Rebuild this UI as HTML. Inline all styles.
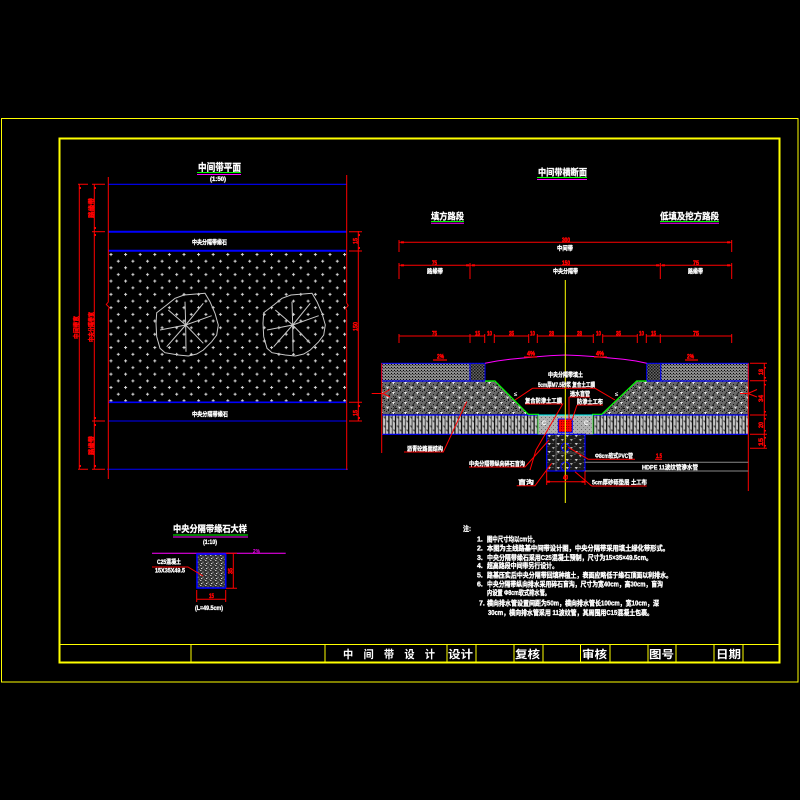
<!DOCTYPE html>
<html><head><meta charset="utf-8">
<style>
html,body{margin:0;padding:0;background:#000;}
svg{display:block;}
text{font-family:"Liberation Sans","Noto Sans CJK SC",sans-serif;font-weight:bold;}
</style></head>
<body>
<svg width="800" height="800" viewBox="0 0 800 800" xmlns="http://www.w3.org/2000/svg">
<defs>
 <pattern id="pdots" width="14.6" height="13.3" patternUnits="userSpaceOnUse" x="108" y="251">
   <path d="M3 2v3M1.5 3.5h3M10.3 8.7v3M8.8 10.2h3" stroke="#d8d8d8" stroke-width="1"/>
 </pattern>
 <pattern id="pcheck" width="3" height="3" patternUnits="userSpaceOnUse">
   <rect width="3" height="3" fill="#8c8c8c"/><rect x="1" y="1" width="1" height="1" fill="#000"/><rect x="2.2" y="2.2" width="0.8" height="0.8" fill="#222"/><rect x="0" y="2" width="0.8" height="0.8" fill="#444"/>
 </pattern>
 <pattern id="pcurb" width="3" height="3" patternUnits="userSpaceOnUse">
   <rect width="3" height="3" fill="#666"/><rect x="0" y="0" width="1.5" height="1.5" fill="#111"/><rect x="1.5" y="1.5" width="1.5" height="1.5" fill="#222"/>
 </pattern>
 <pattern id="pbase" width="12" height="10" patternUnits="userSpaceOnUse">
   <rect width="12" height="10" fill="#6a6a6a"/>
   <path d="M0 0h1v1h-1zM2 1h1v1h-1zM4 0h1v1h-1zM6 2h1v1h-1zM8 1h1v1h-1zM10 3h1v1h-1zM1 4h1v1h-1zM3 6h1v1h-1zM5 5h1v1h-1zM7 8h1v1h-1zM9 6h1v1h-1zM11 8h1v1h-1zM0 8h1v1h-1zM4 9h1v1h-1z" fill="#111"/>
   <path d="M7 2l-3 4M12 6l-3 4" stroke="#1a1a1a" stroke-width="0.8"/>
   <path d="M2 6.5h3l-1.5 2.5z M8 2h3l-1.5 2.5z" fill="#f0f0f0"/>
 </pattern>
 <pattern id="pstripe" width="6.6" height="9" patternUnits="userSpaceOnUse" x="381.7" y="415">
   <rect width="6.6" height="9" fill="#c4c4c4"/>
   <rect x="0" width="1.2" height="9" fill="#000"/>
   <rect x="3.6" width="0.7" height="9" fill="#111"/>
   <path d="M1.8 2h1.4v1.6M4.8 6h1.2v1.4" stroke="#222" stroke-width="0.7" fill="none"/>
 </pattern>
 <pattern id="pcenter" width="4" height="4" patternUnits="userSpaceOnUse">
   <rect width="4" height="4" fill="#b0b0b0"/><rect x="1" y="1" width="1" height="1" fill="#666"/><rect x="3" y="3" width="0.8" height="0.8" fill="#777"/>
 </pattern>
 <pattern id="ptrench" width="9" height="8" patternUnits="userSpaceOnUse" x="546.7" y="434">
   <rect width="9" height="8" fill="#1a1a1a"/>
   <path d="M1 1h3.2l-1.6 2.4z" fill="#d0d0d0"/>
   <path d="M5.2 5h3l-1.5 2.4z" fill="#a8a8a8"/>
   <path d="M0 4.5h2M5 1.5h2" stroke="#777" stroke-width="0.6"/>
 </pattern>
 <pattern id="pstone" width="5" height="5" patternUnits="userSpaceOnUse">
   <rect width="5" height="5" fill="#333"/>
   <rect x="0" y="0" width="1.5" height="1" fill="#bbb"/><rect x="2.5" y="1.5" width="1" height="1.5" fill="#999"/>
   <rect x="1" y="3" width="1.3" height="1" fill="#ddd"/><rect x="3.8" y="3.8" width="1" height="1" fill="#888"/>
 </pattern>
 <pattern id="pred" width="2.5" height="2.5" patternUnits="userSpaceOnUse">
   <rect width="2.5" height="2.5" fill="#ff0000"/><rect x="1" y="1" width="0.7" height="0.7" fill="#000"/>
 </pattern>
</defs>

<rect width="800" height="800" fill="#000"/>

<!-- frames -->
<rect x="1.5" y="118.5" width="796.5" height="563.5" fill="none" stroke="#ffff00" stroke-width="1"/>
<rect x="59.5" y="138.5" width="720" height="524" fill="none" stroke="#ffff00" stroke-width="2"/>
<line x1="59" y1="644.5" x2="780" y2="644.5" stroke="#ffff00" stroke-width="1"/>
<g stroke="#ffff00" stroke-width="1">
 <line x1="191" y1="644.5" x2="191" y2="662"/>
 <line x1="325" y1="644.5" x2="325" y2="662"/>
 <line x1="447" y1="644.5" x2="447" y2="662"/>
 <line x1="476" y1="644.5" x2="476" y2="662"/>
 <line x1="514" y1="644.5" x2="514" y2="662"/>
 <line x1="543" y1="644.5" x2="543" y2="662"/>
 <line x1="580.5" y1="644.5" x2="580.5" y2="662"/>
 <line x1="610" y1="644.5" x2="610" y2="662"/>
 <line x1="648" y1="644.5" x2="648" y2="662"/>
 <line x1="676" y1="644.5" x2="676" y2="662"/>
 <line x1="714" y1="644.5" x2="714" y2="662"/>
 <line x1="743" y1="644.5" x2="743" y2="662"/>
</g>
<g fill="#fff" font-size="11">
 <text x="343" y="658" textLength="92" lengthAdjust="spacingAndGlyphs" font-weight="normal">中　间　带　设　计</text>
 <text x="448" y="658" textLength="25" lengthAdjust="spacingAndGlyphs">设计</text>
 <text x="515" y="658" textLength="25" lengthAdjust="spacingAndGlyphs">复核</text>
 <text x="582" y="658" textLength="25" lengthAdjust="spacingAndGlyphs">审核</text>
 <text x="649" y="658" textLength="25" lengthAdjust="spacingAndGlyphs">图号</text>
 <text x="716" y="658" textLength="25" lengthAdjust="spacingAndGlyphs">日期</text>
</g>

<!-- ================= PLAN VIEW ================= -->
<g fill="#fff" stroke="#fff" stroke-width="0.3">
<text x="198" y="171" font-size="10" textLength="43" lengthAdjust="spacingAndGlyphs">中间带平面</text>
<text x="210" y="181" font-size="6" textLength="16" lengthAdjust="spacingAndGlyphs">(1:50)</text>
</g>
<line x1="197" y1="172.5" x2="241" y2="172.5" stroke="#00ff00" stroke-width="1"/>
<line x1="197" y1="174.5" x2="241" y2="174.5" stroke="#ff00ff" stroke-width="1"/>

<rect x="108.3" y="251" width="238.4" height="151.3" fill="url(#pdots)"/>
<!-- trees -->
<g fill="none" stroke="#c8c8c8" stroke-width="1">
 <g id="tree">
  <polygon points="175,298.3 184,295 205,293.3 210,301.7 215,313.3 218.3,325 216.7,335 211.7,341.7 203.3,350 196.7,354 188.3,356 178.3,355 165,352.7 160,348.3 156.7,336.7 156,323.3 156.7,312.7 166.7,305"/>
  <path d="M185.7 325L185 301.7M185.7 325L203.3 303.3M185.7 325L211.7 315.7M185.7 325L203.3 343.3M185.7 325L186 351.7M185.7 325L166.7 346.7M185.7 325L160 330M185.7 325L168.3 310"/>
 </g>
 <use href="#tree" transform="translate(107,0)"/>
</g>

<g stroke="#0000ff">
 <line x1="108" y1="184.3" x2="347" y2="184.3" stroke-width="1.2"/>
 <line x1="108" y1="231.7" x2="347" y2="231.7" stroke-width="2"/>
 <line x1="108" y1="250.7" x2="347" y2="250.7" stroke-width="2"/>
 <line x1="108" y1="402.3" x2="347" y2="402.3" stroke-width="1.6"/>
 <line x1="108" y1="421" x2="347" y2="421" stroke-width="1"/>
 <line x1="107" y1="469.3" x2="348" y2="469.3" stroke-width="1"/>
</g>
<g fill="#fff" stroke="#fff" stroke-width="0.3" font-size="6">
 <text x="192" y="244.5" textLength="35" lengthAdjust="spacingAndGlyphs">中央分隔带缘石</text>
 <text x="192" y="416.5" textLength="36" lengthAdjust="spacingAndGlyphs">中央分隔带缘石</text>
</g>

<g stroke="#ff0000" stroke-width="1" fill="none">
 <path d="M108.3 177V302l-2 2.5 3 3-1 2.5V479"/>
 <path d="M346.7 175V303l1.5 2.5-2.5 3 1 2V470"/>
 <line x1="79.3" y1="184.3" x2="79.3" y2="469.3"/>
 <line x1="94.3" y1="184.3" x2="94.3" y2="469.3"/>
 <path d="M78 184.3H88M92 184.3H105"/>
 <path d="M92 231.7H105"/>
 <path d="M92 421H105"/>
 <path d="M78 469.3H88M92 469.3H105"/>
 <line x1="358.3" y1="231" x2="358.3" y2="421.5"/>
 <path d="M349 231.7H362M349 251H362M349 402.3H362M349 421H362"/>
</g>
<g fill="#ff0000">
 <rect x="79.5" y="187" width="1.5" height="2"/><rect x="94.5" y="187" width="1.5" height="2"/>
 <rect x="94.5" y="227" width="1.5" height="2"/><rect x="94.5" y="234" width="1.5" height="2"/>
 <rect x="94.5" y="417" width="1.5" height="2"/><rect x="94.5" y="424" width="1.5" height="2"/>
 <rect x="79.5" y="465" width="1.5" height="2"/><rect x="94.5" y="465" width="1.5" height="2"/>
 <rect x="358.5" y="234" width="1.5" height="2"/><rect x="358.5" y="247" width="1.5" height="2"/>
 <rect x="358.5" y="405" width="1.5" height="2"/><rect x="358.5" y="417" width="1.5" height="2"/>
</g>
<g fill="#ff0000" stroke="#ff0000" stroke-width="0.4" font-size="6.5">
 <text transform="translate(93.5,218) rotate(-90)" textLength="20" lengthAdjust="spacingAndGlyphs">路缘带</text>
 <text transform="translate(93.5,342) rotate(-90)" textLength="30" lengthAdjust="spacingAndGlyphs">中央分隔带宽</text>
 <text transform="translate(93.5,455) rotate(-90)" textLength="19" lengthAdjust="spacingAndGlyphs">路缘带</text>
 <text transform="translate(78.5,339) rotate(-90)" textLength="23" lengthAdjust="spacingAndGlyphs">中间带宽</text>
 <text transform="translate(357.5,244) rotate(-90)" textLength="6" lengthAdjust="spacingAndGlyphs">15</text>
 <text transform="translate(357.5,331) rotate(-90)" textLength="9" lengthAdjust="spacingAndGlyphs">150</text>
 <text transform="translate(357.5,416) rotate(-90)" textLength="6" lengthAdjust="spacingAndGlyphs">15</text>
</g>

<!-- ================= SECTION VIEW ================= -->
<g fill="#fff" stroke="#fff" stroke-width="0.3">
<text x="538" y="175.5" font-size="9" textLength="49" lengthAdjust="spacingAndGlyphs">中间带横断面</text>
<text x="431" y="219.5" font-size="9" textLength="33" lengthAdjust="spacingAndGlyphs">填方路段</text>
<text x="660" y="219.5" font-size="9" textLength="59" lengthAdjust="spacingAndGlyphs">低填及挖方路段</text>
</g>
<line x1="537" y1="177.5" x2="587" y2="177.5" stroke="#00ff00"/>
<line x1="537" y1="179.5" x2="587" y2="179.5" stroke="#ff00ff"/>
<line x1="431" y1="221.5" x2="464" y2="221.5" stroke="#00ff00"/>
<line x1="431" y1="223.3" x2="464" y2="223.3" stroke="#ff00ff"/>
<line x1="660" y1="221.5" x2="719" y2="221.5" stroke="#00ff00"/>
<line x1="660" y1="223.3" x2="719" y2="223.3" stroke="#ff00ff"/>

<!-- dimension lines -->
<g stroke="#ff0000" stroke-width="1" fill="none">
 <line x1="399" y1="242.3" x2="731.7" y2="242.3"/>
 <path d="M399 240V252M731.7 240V252"/>
 <path d="M399 263V279M470 263V279M660.3 263V279M731.7 263V279"/>
 <path d="M399 265.3H470M470.5 265.3H660M660.8 265.3H731.7"/>
 <path d="M399 336H484.7M494.3 336H528.7M537.3 336H593.3M602.7 336H637.3M646.3 336H731.7"/>
 <path d="M399 334V343M470 334V343M484.7 334V343M494.3 334V343M528.7 334V343M537.3 334V343M565.3 334V343M593.3 334V343M602.7 334V343M637.3 334V343M646.3 334V343M660.3 334V343M731.7 334V343"/>
</g>
<g fill="#ff0000">
 <rect x="401" y="241.3" width="3" height="2"/><rect x="727" y="241.3" width="3" height="2"/>
 <rect x="401" y="264.3" width="3" height="2"/><rect x="466" y="264.3" width="3" height="2"/><rect x="472" y="264.3" width="3" height="2"/>
 <rect x="656" y="264.3" width="3" height="2"/><rect x="662" y="264.3" width="3" height="2"/><rect x="727" y="264.3" width="3" height="2"/>
</g>
<g fill="#ff0000" stroke="#ff0000" stroke-width="0.5" font-size="6.5">
 <text x="562" y="242" textLength="8" lengthAdjust="spacingAndGlyphs">300</text>
 <text x="432" y="265" textLength="5" lengthAdjust="spacingAndGlyphs">75</text>
 <text x="562" y="265" textLength="8" lengthAdjust="spacingAndGlyphs">150</text>
 <text x="693" y="265" textLength="6" lengthAdjust="spacingAndGlyphs">75</text>
 <text x="432" y="335.5" textLength="5" lengthAdjust="spacingAndGlyphs">75</text>
 <text x="475" y="335.5" textLength="5" lengthAdjust="spacingAndGlyphs">15</text>
 <text x="487" y="335.5" textLength="5" lengthAdjust="spacingAndGlyphs">10</text>
 <text x="509" y="335.5" textLength="5" lengthAdjust="spacingAndGlyphs">35</text>
 <text x="530" y="335.5" textLength="5" lengthAdjust="spacingAndGlyphs">10</text>
 <text x="549" y="335.5" textLength="5" lengthAdjust="spacingAndGlyphs">28</text>
 <text x="577" y="335.5" textLength="5" lengthAdjust="spacingAndGlyphs">28</text>
 <text x="596" y="335.5" textLength="5" lengthAdjust="spacingAndGlyphs">10</text>
 <text x="616" y="335.5" textLength="5" lengthAdjust="spacingAndGlyphs">35</text>
 <text x="639" y="335.5" textLength="5" lengthAdjust="spacingAndGlyphs">10</text>
 <text x="651" y="335.5" textLength="5" lengthAdjust="spacingAndGlyphs">15</text>
 <text x="693" y="335.5" textLength="6" lengthAdjust="spacingAndGlyphs">75</text>
</g>
<g fill="#fff" stroke="#fff" stroke-width="0.3" font-size="6">
 <text x="557" y="250.5" textLength="16" lengthAdjust="spacingAndGlyphs">中间带</text>
 <text x="427" y="273.5" textLength="16" lengthAdjust="spacingAndGlyphs">路缘带</text>
 <text x="553" y="273.5" textLength="25" lengthAdjust="spacingAndGlyphs">中央分隔带</text>
 <text x="688" y="273.5" textLength="15" lengthAdjust="spacingAndGlyphs">路缘带</text>
</g>

<!-- layers -->
<rect x="381.7" y="363.3" width="88.3" height="17.7" fill="url(#pcheck)" stroke="#0000ff" stroke-width="1"/>
<rect x="470" y="363.3" width="15" height="17.7" fill="url(#pcurb)" stroke="#0000ff" stroke-width="1"/>
<rect x="660.7" y="363.3" width="87.6" height="17.7" fill="url(#pcheck)" stroke="#0000ff" stroke-width="1"/>
<rect x="646.7" y="363.3" width="14" height="17.7" fill="url(#pcurb)" stroke="#0000ff" stroke-width="1"/>
<polygon points="381.7,381 495,381 528.3,414.3 381.7,414.3" fill="url(#pbase)"/>
<polygon points="636.7,381 748.3,381 748.3,414.3 601.7,414.3" fill="url(#pbase)"/>
<rect x="381.7" y="415" width="156.6" height="19.3" fill="url(#pstripe)"/>
<rect x="592.7" y="415" width="155.6" height="19.3" fill="url(#pstripe)"/>
<g stroke="#0000ff" stroke-width="1.2" fill="none">
 <line x1="381.7" y1="381" x2="485" y2="381"/>
 <line x1="646.7" y1="381" x2="748.3" y2="381"/>
 <line x1="381.7" y1="415" x2="538.3" y2="415"/>
 <line x1="381.7" y1="434.3" x2="546.7" y2="434.3"/>
 <line x1="592.7" y1="415" x2="748.3" y2="415"/>
 <line x1="585" y1="434.3" x2="748.3" y2="434.3"/>
</g>
<g stroke="#00ff00" stroke-width="1.2" fill="none">
 <path d="M485 381H495L528.3 414.3H538.3V434.3"/>
 <path d="M646.7 381H636.7L601.7 414.3H592.7V434.3"/>
</g>
<!-- center box -->
<rect x="538.3" y="415" width="54.4" height="19.3" fill="url(#pcenter)"/>
<line x1="538.3" y1="415" x2="592.7" y2="415" stroke="#00ffff" stroke-width="1"/>
<g fill="#fff" font-size="6"><text x="542" y="425">C</text><text x="584" y="425">C</text></g>
<rect x="558.3" y="419" width="14" height="13.3" fill="url(#pred)" stroke="#0000ff" stroke-width="1"/>
<!-- trench -->
<rect x="546.7" y="434.3" width="38.3" height="36.7" fill="url(#ptrench)" stroke="#0000ff" stroke-width="1.2"/>
<path d="M556 453H584M556 434.3V471" stroke="#888" stroke-width="0.6" fill="none"/>
<circle cx="565.3" cy="447.3" r="4" fill="none" stroke="#0000ff" stroke-width="1"/>
<circle cx="565.3" cy="466.5" r="4.5" fill="none" stroke="#0000ff" stroke-width="1"/>

<!-- magenta arc -->
<polyline points="485,363.3 497,361 510,359.3 523,358 536.7,356.7 551,355.6 565.3,355 580,355.6 596.7,356.7 610,358 623.3,359.3 636,361 646.7,363.3" fill="none" stroke="#ff00ff" stroke-width="1"/>

<!-- centerline -->
<line x1="565.3" y1="280" x2="565.3" y2="503" stroke="#ffff00" stroke-width="1"/>

<!-- side red lines -->
<g stroke="#ff0000" stroke-width="1" fill="none">
 <line x1="381.7" y1="363.3" x2="381.7" y2="453"/>
 <line x1="748.3" y1="363.3" x2="748.3" y2="491"/>
 <line x1="764.3" y1="363" x2="764.3" y2="448.3"/>
 <path d="M750 363.3H767M750 380.7H767M750 415H767M750 434.3H767M750 448.3H767"/>
 <path d="M371.7 393.5H383L390 389.5M383 393.5L390 397"/>
 <path d="M740 393.5H748L757 389.5M748 393.5L757 397"/>
 <line x1="546.7" y1="481.7" x2="585" y2="481.7"/>
 <path d="M546.7 471V485M585 471V485"/>
 <!-- leaders -->
 <path d="M404 452H443.3L466.7 401.7"/>
 <path d="M469 467H525L549 440"/>
 <path d="M516.7 485.7H535L551.7 463.3"/>
 <path d="M591.7 486H646.7M591.7 486L575 471.7"/>
 <path d="M588.3 459.3H635M588.3 459.3L568.3 447.3"/>
 <path d="M525 404H562.7L536 450L530 470"/>
 <path d="M532.5 388.3H595L615 400M532.5 388.3L515 400"/>
 <path d="M569 397H590M569 397V420"/>
 <path d="M577 405H603M577 405L572 420"/>
 <path d="M655 459.3H662"/>
</g>
<g fill="#ff0000">
 <rect x="547" y="480.7" width="3" height="2"/><rect x="581.5" y="480.7" width="3" height="2"/>
 <rect x="764" y="367" width="2" height="1.5"/><rect x="764" y="377" width="2" height="1.5"/>
 <rect x="764" y="384" width="2" height="1.5"/><rect x="764" y="411" width="2" height="1.5"/>
 <rect x="764" y="418" width="2" height="1.5"/><rect x="764" y="430" width="2" height="1.5"/>
 <rect x="764" y="437" width="2" height="1.5"/><rect x="764" y="445" width="2" height="1.5"/>
</g>
<g fill="#ff0000" stroke="#ff0000" stroke-width="0.4" font-size="6">
 <text x="563" y="479.5" textLength="5" lengthAdjust="spacingAndGlyphs">40</text>
 <text transform="translate(763,375) rotate(-90)" textLength="6" lengthAdjust="spacingAndGlyphs">18</text>
 <text transform="translate(763,402) rotate(-90)" textLength="7" lengthAdjust="spacingAndGlyphs">34</text>
 <text transform="translate(763,428) rotate(-90)" textLength="6" lengthAdjust="spacingAndGlyphs">20</text>
 <text transform="translate(763,446) rotate(-90)" textLength="8" lengthAdjust="spacingAndGlyphs">15</text>
 <text x="656" y="458" textLength="6" lengthAdjust="spacingAndGlyphs">1.5</text>
</g>
<!-- slope labels above -->
<g fill="#ff0000" stroke="#ff0000" stroke-width="0.5" font-size="6.5">
 <text x="437" y="358.5" textLength="7" lengthAdjust="spacingAndGlyphs">2%</text>
 <text x="527" y="355.5" textLength="8" lengthAdjust="spacingAndGlyphs">4%</text>
 <text x="596" y="355.5" textLength="8" lengthAdjust="spacingAndGlyphs">4%</text>
 <text x="687" y="358.5" textLength="7" lengthAdjust="spacingAndGlyphs">2%</text>
</g>
<g stroke="#ff0000" stroke-width="1.2">
 <line x1="433" y1="360" x2="447" y2="360"/>
 <line x1="524" y1="357" x2="537" y2="357"/>
 <line x1="594" y1="357" x2="607" y2="357"/>
 <line x1="685" y1="360" x2="698" y2="360"/>
</g>
<g fill="#fff" font-size="6">
 <text x="514" y="396">≤</text>
 <text x="615" y="396">≤</text>
</g>
<!-- white labels -->
<g fill="#fff" stroke="#fff" stroke-width="0.3" font-size="6">
 <text x="548" y="377" textLength="35" lengthAdjust="spacingAndGlyphs">中央分隔带填土</text>
 <text x="538" y="387" textLength="57" lengthAdjust="spacingAndGlyphs">5cm厚M7.5砂浆 复合土工膜</text>
 <text x="570" y="396" textLength="20" lengthAdjust="spacingAndGlyphs">透水盲管</text>
 <text x="577" y="404" textLength="26" lengthAdjust="spacingAndGlyphs">防渗土工布</text>
 <text x="525" y="403" textLength="37" lengthAdjust="spacingAndGlyphs">复合防渗土工膜</text>
 <text x="407" y="451" textLength="36" lengthAdjust="spacingAndGlyphs">沥青砼路面结构</text>
 <text x="469" y="466" textLength="56" lengthAdjust="spacingAndGlyphs">中央分隔带纵向碎石盲沟</text>
 <text x="518" y="484.5" textLength="16" lengthAdjust="spacingAndGlyphs">盲沟</text>
 <text x="592" y="484.5" textLength="55" lengthAdjust="spacingAndGlyphs">5cm厚砂砾垫层 土工布</text>
 <text x="595" y="458" textLength="38" lengthAdjust="spacingAndGlyphs">Φ8cm软式PVC管</text>
 <text x="642" y="469.5" textLength="56" lengthAdjust="spacingAndGlyphs">HDPE 11波纹管渗水管</text>
</g>
<g stroke="#888" stroke-width="1">
 <line x1="585" y1="462.3" x2="748.3" y2="462.3"/>
 <line x1="585" y1="471" x2="748.3" y2="471"/>
</g>

<!-- ================= DETAIL ================= -->
<g fill="#fff" stroke="#fff" stroke-width="0.3">
<text x="173" y="532" font-size="9" textLength="74" lengthAdjust="spacingAndGlyphs">中央分隔带缘石大样</text>
<text x="203" y="544" font-size="6" textLength="14" lengthAdjust="spacingAndGlyphs">(1:10)</text>
</g>
<line x1="173" y1="535" x2="248" y2="535" stroke="#00ff00"/>
<line x1="173" y1="537" x2="248" y2="537" stroke="#ff00ff"/>
<line x1="152" y1="553.3" x2="285.7" y2="553.3" stroke="#ff00ff" stroke-width="1"/>
<text x="253" y="553" fill="#ff00ff" font-size="5.5" textLength="7" lengthAdjust="spacingAndGlyphs">2%</text>
<rect x="197" y="554" width="28.7" height="34" fill="url(#pstone)" stroke="#0000ff" stroke-width="1.6"/>
<g fill="#fff" stroke="#fff" stroke-width="0.3" font-size="6">
 <text x="157" y="564" textLength="24" lengthAdjust="spacingAndGlyphs">C25混凝土</text>
 <text x="155" y="572.5" textLength="30" lengthAdjust="spacingAndGlyphs">15X35X49.5</text>
 <text x="195" y="610" textLength="28" lengthAdjust="spacingAndGlyphs">(L=49.5cm)</text>
</g>
<g stroke="#ff0000" stroke-width="1" fill="none">
 <path d="M152 567H188L203 576"/>
 <line x1="233.3" y1="553.3" x2="233.3" y2="588.3"/>
 <path d="M226 553.3H237M226 588.3H237"/>
 <line x1="196.7" y1="599.3" x2="225.7" y2="599.3"/>
 <path d="M196.7 590V602M225.7 590V602"/>
</g>
<g fill="#ff0000" stroke="#ff0000" stroke-width="0.4" font-size="6">
 <text x="209" y="598" textLength="5" lengthAdjust="spacingAndGlyphs">15</text>
 <text transform="translate(232.5,574) rotate(-90)" textLength="6" lengthAdjust="spacingAndGlyphs">35</text>
</g>

<!-- ================= NOTES ================= -->
<g fill="#fff" stroke="#fff" stroke-width="0.35" font-size="7">
 <text x="463" y="531" textLength="8" lengthAdjust="spacingAndGlyphs">注:</text>
 <text x="477" y="541.5">1.</text>
 <text x="487" y="541.5" textLength="51" lengthAdjust="spacingAndGlyphs">图中尺寸均以cm计。</text>
 <text x="477" y="550.5">2.</text>
 <text x="487" y="550.5" textLength="182" lengthAdjust="spacingAndGlyphs">本图为主线路基中间带设计图，中央分隔带采用填土绿化带形式。</text>
 <text x="477" y="560">3.</text>
 <text x="487" y="560" textLength="165" lengthAdjust="spacingAndGlyphs">中央分隔带缘石采用C25混凝土预制，尺寸为15×35×49.5cm。</text>
 <text x="477" y="568">4.</text>
 <text x="487" y="568" textLength="71" lengthAdjust="spacingAndGlyphs">超高路段中间带另行设计。</text>
 <text x="477" y="577.5">5.</text>
 <text x="487" y="577.5" textLength="185" lengthAdjust="spacingAndGlyphs">路基压实后中央分隔带回填种植土，表面应略低于缘石顶面以利排水。</text>
 <text x="477" y="586.5">6.</text>
 <text x="487" y="586.5" textLength="176" lengthAdjust="spacingAndGlyphs">中央分隔带纵向排水采用碎石盲沟，尺寸为宽40cm，高30cm，盲沟</text>
 <text x="487" y="595" textLength="63" lengthAdjust="spacingAndGlyphs">内设置 Φ8cm软式排水管。</text>
 <text x="479" y="605.5">7.</text>
 <text x="487" y="605.5" textLength="172" lengthAdjust="spacingAndGlyphs">横向排水管设置间距为50m，横向排水管长100cm，宽10cm，深</text>
 <text x="488" y="615" textLength="165" lengthAdjust="spacingAndGlyphs">30cm，横向排水管采用 11波纹管，其周围用C15混凝土包裹。</text>
</g>
</svg>
</body></html>
